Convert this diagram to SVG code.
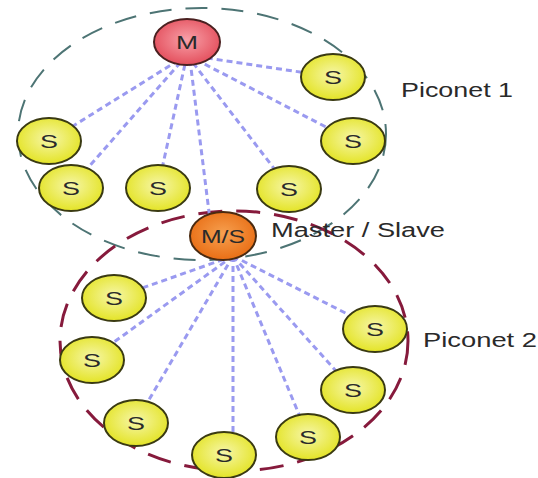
<svg xmlns="http://www.w3.org/2000/svg" width="538" height="478" viewBox="0 0 538 478">
<style>
.lbl{font-family:"Liberation Sans",Arial,sans-serif;font-size:20px;fill:#2a2a2a}
.nl{font-family:"Liberation Sans",Arial,sans-serif;font-size:19px;fill:#2a2a2a;text-anchor:middle}
.s{fill:url(#gy);stroke:#3a3a12;stroke-width:2}
.link{stroke:#9a9af0;stroke-width:3;stroke-dasharray:6 4;fill:none}
</style>
<defs>
<radialGradient id="gy" cx="50%" cy="45%" r="60%"><stop offset="0" stop-color="#f6f6a8"/><stop offset="1" stop-color="#e2e21a"/></radialGradient>
<radialGradient id="gr" cx="50%" cy="45%" r="60%"><stop offset="0" stop-color="#f8a0a8"/><stop offset="1" stop-color="#e24856"/></radialGradient>
<radialGradient id="go" cx="50%" cy="45%" r="60%"><stop offset="0" stop-color="#f6a050"/><stop offset="1" stop-color="#e86a10"/></radialGradient>
</defs>
<rect width="538" height="478" fill="#ffffff"/>
<g id="piconet1"><ellipse cx="202" cy="134" rx="184" ry="126" fill="none" stroke="#4d7474" stroke-width="2" stroke-dasharray="22 14"/></g>
<g id="piconet2"><ellipse cx="234" cy="341" rx="174" ry="130" fill="none" stroke="#861a3c" stroke-width="3" stroke-dasharray="24 14"/></g>
<g id="connectors">
<line class="link" x1="187" y1="55" x2="49" y2="141"/>
<line class="link" x1="187" y1="55" x2="71" y2="187"/>
<line class="link" x1="187" y1="55" x2="158" y2="187"/>
<line class="link" x1="190" y1="60" x2="212" y2="236"/>
<line class="link" x1="187" y1="55" x2="289" y2="188"/>
<line class="link" x1="187" y1="55" x2="353" y2="141"/>
<line class="link" x1="187" y1="55" x2="333" y2="77"/>
<line class="link" x1="233" y1="256" x2="114" y2="298"/>
<line class="link" x1="233" y1="256" x2="92" y2="358"/>
<line class="link" x1="233" y1="256" x2="136" y2="422"/>
<line class="link" x1="233" y1="256" x2="233" y2="454"/>
<line class="link" x1="233" y1="256" x2="308" y2="436"/>
<line class="link" x1="233" y1="256" x2="353" y2="390"/>
<line class="link" x1="233" y1="256" x2="375" y2="328"/>
</g>
<g id="m"><ellipse cx="187" cy="42" rx="33" ry="23" fill="url(#gr)" stroke="#4a2020" stroke-width="2"/><text class="nl" x="187" y="49" textLength="22" lengthAdjust="spacingAndGlyphs">M</text></g>
<g id="s1"><ellipse class="s" cx="333" cy="77" rx="32" ry="23"/><text class="nl" x="333" y="84" textLength="18" lengthAdjust="spacingAndGlyphs">S</text></g>
<g id="s2"><ellipse class="s" cx="353" cy="141" rx="32" ry="23"/><text class="nl" x="353" y="148" textLength="18" lengthAdjust="spacingAndGlyphs">S</text></g>
<g id="s3"><ellipse class="s" cx="49" cy="141" rx="32" ry="23"/><text class="nl" x="49" y="148" textLength="18" lengthAdjust="spacingAndGlyphs">S</text></g>
<g id="s4"><ellipse class="s" cx="71" cy="188" rx="32" ry="23"/><text class="nl" x="71" y="195" textLength="18" lengthAdjust="spacingAndGlyphs">S</text></g>
<g id="s5"><ellipse class="s" cx="158" cy="188" rx="32" ry="23"/><text class="nl" x="158" y="195" textLength="18" lengthAdjust="spacingAndGlyphs">S</text></g>
<g id="s6"><ellipse class="s" cx="289" cy="189" rx="32" ry="23"/><text class="nl" x="289" y="196" textLength="18" lengthAdjust="spacingAndGlyphs">S</text></g>
<g id="ms"><ellipse cx="223" cy="236" rx="33" ry="24" fill="url(#go)" stroke="#4a2a10" stroke-width="2"/><text class="nl" x="223" y="243" textLength="44" lengthAdjust="spacingAndGlyphs">M/S</text></g>
<g id="s7"><ellipse class="s" cx="114" cy="298" rx="32" ry="23"/><text class="nl" x="114" y="305" textLength="18" lengthAdjust="spacingAndGlyphs">S</text></g>
<g id="s8"><ellipse class="s" cx="92" cy="360" rx="32" ry="23"/><text class="nl" x="92" y="367" textLength="18" lengthAdjust="spacingAndGlyphs">S</text></g>
<g id="s9"><ellipse class="s" cx="136" cy="423" rx="32" ry="23"/><text class="nl" x="136" y="430" textLength="18" lengthAdjust="spacingAndGlyphs">S</text></g>
<g id="s10"><ellipse class="s" cx="224" cy="455" rx="32" ry="23"/><text class="nl" x="224" y="462" textLength="18" lengthAdjust="spacingAndGlyphs">S</text></g>
<g id="s11"><ellipse class="s" cx="308" cy="437" rx="32" ry="23"/><text class="nl" x="308" y="444" textLength="18" lengthAdjust="spacingAndGlyphs">S</text></g>
<g id="s12"><ellipse class="s" cx="353" cy="390" rx="32" ry="23"/><text class="nl" x="353" y="397" textLength="18" lengthAdjust="spacingAndGlyphs">S</text></g>
<g id="s13"><ellipse class="s" cx="375" cy="329" rx="32" ry="23"/><text class="nl" x="375" y="336" textLength="18" lengthAdjust="spacingAndGlyphs">S</text></g>
<g id="labels">
<text class="lbl" x="401" y="97" textLength="112" lengthAdjust="spacingAndGlyphs">Piconet 1</text>
<text class="lbl" x="271" y="237" textLength="174" lengthAdjust="spacingAndGlyphs">Master / Slave</text>
<text class="lbl" x="423" y="347" textLength="114" lengthAdjust="spacingAndGlyphs">Piconet 2</text>
</g>
</svg>
